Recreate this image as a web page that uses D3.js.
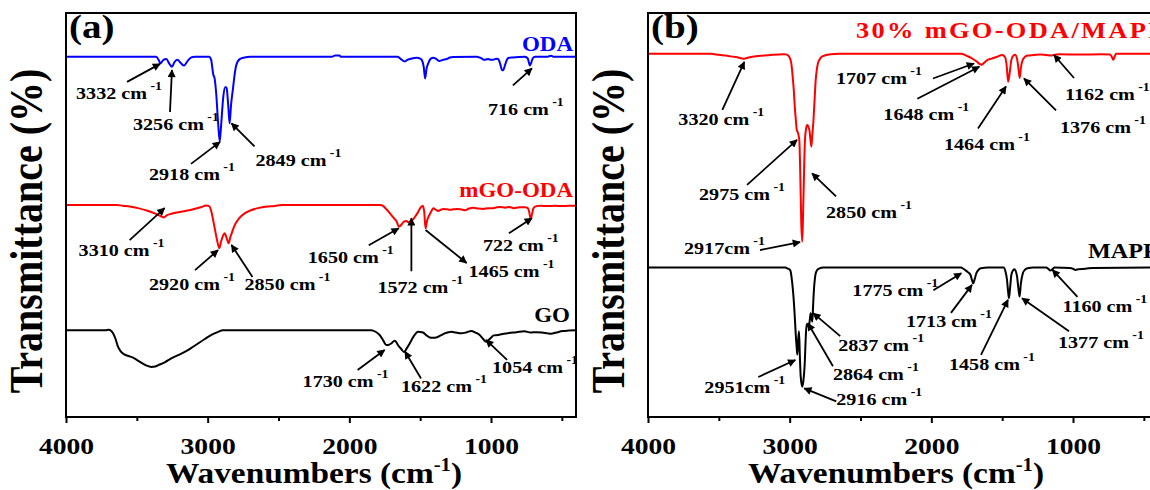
<!DOCTYPE html>
<html>
<head>
<meta charset="utf-8">
<script src="https://cdn.jsdelivr.net/npm/d3@7"></script>
<style>body{margin:0;background:#fff;}</style>
</head>
<body>
<script>
// spectra: [wavenumber, change in transmittance from the curve's own baseline]
var odaPts = [[4000,0],[3400,0],[3363,0],[3345,-0.9],[3332,-1.65],[3315,-0.9],[3292,-0.6],[3270,-1.8],[3252,-2.5],[3235,-1.4],[3214,-0.8],[3190,-1.6],[3167,-2.2],[3140,-1.0],[3115,-0.2],[3090,0],[2990,0],[2975,-0.8],[2970,-2],[2960,-4.5],[2952,-5.2],[2940,-9],[2927,-16],[2915,-21],[2905,-17],[2890,-10],[2875,-7.5],[2866,-7.8],[2855,-12],[2845,-16.5],[2835,-12],[2821,-7.8],[2810,-4.5],[2798,-2.1],[2774,-0.6],[2740,-0.2],[2700,0],[2120,0],[2100,0.3],[2070,0.3],[2060,0],[1660,0],[1640,-0.5],[1607,-1.2],[1590,-0.8],[1572,-0.6],[1524,-0.25],[1500,-0.5],[1489,-0.8],[1475,-2.5],[1465,-5.4],[1455,-3],[1443,-1.65],[1425,-0.5],[1407,-0.25],[1385,-0.6],[1365,-1.1],[1340,-0.8],[1313,-0.6],[1290,-0.2],[1266,-0.1],[1101,0],[1078,-0.25],[1060,-0.6],[1049,-0.8],[1021,-0.6],[1000,-0.8],[984,-0.8],[965,-0.5],[950,-0.6],[935,-1.8],[924,-3.2],[915,-3.4],[900,-2],[885,-0.6],[873,-0.3],[850,-0.2],[760,0],[740,-0.5],[725,-2.2],[716,-1.5],[705,-0.4],[690,0],[600,0],[577,0.2],[560,0],[400,0]];
var mgoOdaPts = [[4000,0],[3640,0],[3600,-0.2],[3550,-0.4],[3492,-0.8],[3430,-1.4],[3374,-2.1],[3330,-2.8],[3308,-3.1],[3290,-2.6],[3256,-2.2],[3190,-1.7],[3115,-1.2],[3050,-0.6],[3010,-0.15],[2990,-0.3],[2975,-1.5],[2960,-4],[2950,-5.8],[2935,-8.5],[2918,-10.7],[2905,-9],[2890,-7.5],[2880,-7],[2868,-8],[2852,-9.5],[2840,-8],[2825,-6.5],[2809,-5],[2780,-3.4],[2739,-2.1],[2700,-1.4],[2645,-0.8],[2580,-0.4],[2527,-0.25],[2480,0],[1780,0],[1760,-0.3],[1735,-1.2],[1713,-2.1],[1690,-3.1],[1666,-4.1],[1650,-5.4],[1630,-4.8],[1614,-4.1],[1595,-4.0],[1584,-4.3],[1565,-4.0],[1548,-3.5],[1534,-2.8],[1520,-2.1],[1500,-0.8],[1482,-0.2],[1472,-1.5],[1462,-5.8],[1452,-4],[1435,-2.5],[1420,-1.5],[1407,-0.8],[1390,-1.2],[1372,-1.5],[1355,-1.2],[1337,-1],[1310,-1.1],[1289,-1.2],[1265,-1.1],[1242,-1],[1215,-1.1],[1184,-1.3],[1155,-0.9],[1125,-0.7],[1090,-0.9],[1054,-1],[1020,-0.8],[984,-0.8],[960,-0.6],[936,-0.5],[900,-0.7],[870,-0.5],[840,-0.8],[800,-0.6],[760,-0.6],[740,-0.8],[730,-1.8],[720,-3.5],[712,-2.5],[700,-0.8],[680,-0.3],[650,-0.2],[600,-0.3],[550,-0.2],[500,-0.3],[450,-0.2],[400,-0.2]];
var goPts = [[4000,0],[3720,0],[3700,0.1],[3680,-0.2],[3668,-0.8],[3650,-2.2],[3633,-4.1],[3615,-5.2],[3598,-5.8],[3560,-6.4],[3527,-6.8],[3490,-7.6],[3457,-8.3],[3430,-8.8],[3398,-9.1],[3370,-9.0],[3351,-8.7],[3300,-7.9],[3257,-7],[3210,-6.2],[3162,-5.4],[3115,-4.4],[3068,-3.3],[3020,-2.2],[2974,-1.2],[2930,-0.5],[2892,0],[1845,0],[1815,-0.4],[1786,-1.2],[1760,-2.6],[1739,-3.7],[1720,-3.6],[1704,-3.3],[1680,-2.6],[1668,-3],[1657,-3.7],[1635,-4.6],[1614,-5.4],[1595,-4.5],[1574,-3.3],[1545,-1.5],[1515,-0.4],[1480,-0.6],[1455,-1.3],[1433,-1.8],[1410,-1.9],[1386,-1.8],[1355,-1.3],[1327,-0.8],[1300,-0.5],[1280,-0.4],[1250,-0.6],[1209,-0.8],[1170,-0.5],[1139,-0.2],[1110,-0.6],[1080,-1.2],[1055,-2.2],[1035,-2.9],[1015,-2.4],[998,-1.8],[981,-1.3],[951,-1.2],[910,-0.9],[873,-0.7],[820,-0.5],[765,-0.25],[720,-0.6],[682,-0.5],[640,-0.6],[600,-0.8],[577,-0.9],[540,-0.6],[494,-0.2],[450,-0.1],[400,0]];
var compositePts = [[4000,0],[3600,0],[3557,0],[3500,-0.25],[3440,-0.5],[3380,-0.8],[3322,-1.2],[3290,-0.9],[3252,-0.65],[3150,-0.35],[3040,-0.1],[3020,-0.2],[3005,-0.65],[2990,-2],[2981,-4.8],[2970,-9.5],[2964,-13],[2955,-17],[2950,-18.8],[2942,-19.5],[2932,-21.3],[2925,-30],[2918,-42],[2911,-46.5],[2903,-36],[2892,-21.3],[2884,-18.5],[2876,-17.6],[2868,-18],[2860,-19],[2847,-23],[2840,-20],[2833,-17],[2825,-12],[2816,-6.4],[2808,-3.8],[2800,-2.3],[2785,-1.2],[2770,-0.65],[2710,-0.1],[2650,0],[1790,0],[1774,-0.1],[1750,-0.5],[1715,-1.1],[1680,-1.9],[1660,-2.5],[1645,-2.7],[1630,-2.3],[1609,-1.65],[1575,-1.2],[1539,-0.8],[1500,-0.3],[1480,-0.8],[1468,-3],[1458,-6.9],[1448,-5],[1435,-1.5],[1420,-0.4],[1409,-0.25],[1395,-1.2],[1384,-4],[1376,-6],[1368,-3.5],[1355,-1.5],[1340,-0.8],[1327,-0.5],[1280,-0.3],[1233,-0.2],[1190,-0.3],[1150,-0.4],[1120,-0.2],[1094,-0.1],[950,-0.2],[800,-0.1],[739,-0.2],[725,-0.8],[715,-1.5],[705,-0.6],[696,0],[400,0]];
var mappPts = [[4000,0],[3030,0],[3017,-0.2],[3000,-0.5],[2993,-1],[2983,-3.5],[2974,-6.8],[2965,-11.5],[2957,-16.6],[2950,-20],[2946,-21.5],[2940,-18],[2934,-15.8],[2928,-22],[2922,-27],[2911,-29.5],[2903,-28],[2894,-24],[2886,-17],[2880,-14],[2872,-14.2],[2866,-14.8],[2858,-13],[2852,-11.3],[2846,-12.5],[2840,-13.4],[2834,-9],[2828,-5.1],[2822,-2.8],[2816,-1.4],[2805,-0.6],[2793,-0.3],[2760,0],[1790,0],[1775,-0.3],[1762,-0.6],[1740,-1.2],[1724,-1.8],[1714,-3],[1704,-3.9],[1695,-3],[1682,-1.4],[1665,-0.5],[1649,-0.2],[1600,0],[1490,0],[1478,-0.8],[1466,-3],[1458,-6],[1452,-7.6],[1444,-5],[1435,-1.8],[1425,-0.8],[1414,-0.4],[1405,-0.8],[1395,-2.2],[1386,-5],[1377,-7.2],[1368,-4],[1354,-1.4],[1340,-0.6],[1321,-0.2],[1280,0],[1190,0],[1175,-0.3],[1160,-0.75],[1145,-0.4],[1130,0],[1020,-0.1],[1000,-0.3],[981,-0.6],[962,-0.4],[911,-0.3],[860,-0.1],[400,0]];

// stacking offsets of each curve (transmittance units)
var namesA = ["ODA", "mGO-ODA", "GO"];
var offsetsA = [89.2, 52.5, 21.5];
var namesB = ["30% mGO-ODA/MAPP", "MAPP"];
var offsetsB = [89.9, 37.0];

var xTicks = [4000, 3000, 2000, 1000];
var xMinorTicks = [3500, 2500, 1500, 500];

// peak labels: [label, tip wavenumber, tip transmittance, tail dx, tail dy, text dx, text dy, flags]
// flags: r = arrow head at the tail end, n = no space before cm
var peaksA = [
  ["3332", 3336, 87.4, -33, 18, -84, 35, ""],
  ["3256", 3252, 85.9, -2, 42, -39, 60, ""],
  ["2918", 2913, 68.1, -29, 22, -71, 38, ""],
  ["2849", 2832, 72.7, 23, 23, 24, 43, ""],
  ["716", 711, 86.3, -19, 17, -44, 47, ""],
  ["3310", 3304, 51.7, -35, 32, -86, 48, ""],
  ["2920", 2927, 41.3, -23, 20, -69, 40, ""],
  ["2850", 2832, 42.6, 21, 32, 13, 45, ""],
  ["1650", 1651, 46.7, -30, 17, -91, 35, ""],
  ["1572", 1562, 49.2, 0, 53, -34, 75, ""],
  ["1465", 1462, 46.3, 41, 33, 43, 47, "r"],
  ["722", 711, 49.2, -23, 15, -49, 33, ""],
  ["1730", 1751, 16.6, -27, 20, -82, 37, ""],
  ["1622", 1607, 16.2, 16, 27, -4, 40, ""],
  ["1054", 1035, 19.1, 21, 20, 6, 33, ""]
];
var peaksB = [
  ["3320", 3320, 87.9, -22, 48, -66, 63, ""],
  ["2975", 2948, 68.6, -50, 45, -98, 60, ""],
  ["2850", 2842, 60.3, 24, 23, 14, 45, ""],
  ["2917", 2927, 43.3, -40, 8, -116, 12, "n"],
  ["1707", 1699, 87.5, -41, 15, -138, 20, ""],
  ["1648", 1661, 86.7, -62, 32, -96, 53, ""],
  ["1464", 1473, 81.8, -28, 42, -62, 63, ""],
  ["1376", 1346, 83.8, 32, 32, 36, 55, ""],
  ["1162", 1134, 89.6, 20, 23, 11, 45, ""],
  ["1775", 1788, 35.6, -28, 17, -109, 23, ""],
  ["1713", 1713, 32.7, -21, 28, -66, 42, ""],
  ["1458", 1459, 29.0, -27, 55, -59, 70, ""],
  ["1377", 1360, 29.4, 47, 33, 36, 50, ""],
  ["1160", 1145, 36.4, 25, 27, 10, 42, ""],
  ["2837", 2834, 25.7, 27, 23, 25, 38, ""],
  ["2864", 2871, 23.2, 25, 43, 25, 57, ""],
  ["2951", 2960, 14.1, -37, 17, -91, 33, "n"],
  ["2916", 2897, 7.1, 32, 13, 32, 17, ""]
];

var SX = 1.15; // text in the source figure is stretched sideways
var svg = d3.select("body").append("svg")
    .attr("width", 1150).attr("height", 490)
    .style("font-family", "'Liberation Serif','Times New Roman',serif")
    .style("font-weight", "bold");

svg.append("defs").append("marker")
    .attr("id", "head").attr("viewBox", "0 0 10 10")
    .attr("refX", 9).attr("refY", 5)
    .attr("markerWidth", 11).attr("markerHeight", 8)
    .attr("markerUnits", "userSpaceOnUse").attr("orient", "auto")
  .append("path").attr("d", "M0,0L10,5L0,10z").attr("fill", "#000");

function stretched(g, x, y, size, str, anchor, fill) {
  return g.append("text")
      .attr("transform", "translate(" + x + "," + y + ") scale(" + SX + ",1)")
      .attr("font-size", size)
      .attr("text-anchor", anchor || "start")
      .attr("fill", fill || "#000")
      .text(str);
}

function drawPanel(left, tag, series, peaks) {
  var x = d3.scaleLinear().domain([4000, 400]).range([left, left + 510]);
  var y = d3.scaleLinear().domain([0, 100]).range([417, 13]);
  var g = svg.append("g");

  var line = function(off) {
    return d3.line().curve(d3.curveMonotoneX)
      .x(function(d){ return x(d[0]); })
      .y(function(d){ return y(off + d[1]); });
  };
  series.forEach(function(s) {
    g.append("path").datum(s.pts)
      .attr("d", line(s.off))
      .attr("fill", "none").attr("stroke", s.color)
      .attr("stroke-width", 2).attr("stroke-linejoin", "round");
    stretched(g, s.lx, y(s.off) - s.ly, s.size, s.name, s.anchor, s.color)
      .attr("letter-spacing", s.ls || 0);
  });

  // frame
  g.append("rect").attr("x", x(4000)).attr("y", y(100))
    .attr("width", x(400) - x(4000)).attr("height", y(0) - y(100))
    .attr("fill", "none").attr("stroke", "#000").attr("stroke-width", 2);

  var ax = g.append("g").attr("transform", "translate(0," + y(0) + ")")
    .call(d3.axisBottom(x).tickValues(xTicks).tickSize(6).tickPadding(14).tickFormat(d3.format("d")))
    .attr("font-family", null).attr("font-size", null);
  ax.select(".domain").remove();
  ax.selectAll(".tick line").attr("stroke-width", 2);
  ax.selectAll(".tick text").attr("font-size", 24)
    .attr("fill", "#000").attr("transform", "scale(" + SX + ",1)");
  var mx = g.append("g").attr("transform", "translate(0," + y(0) + ")")
    .call(d3.axisBottom(x).tickValues(xMinorTicks).tickSize(4).tickFormat(""));
  mx.select(".domain").remove();
  mx.selectAll(".tick line").attr("stroke-width", 2);

  stretched(g, left + 3, 38, 34, tag);

  var xt = g.append("text")
    .attr("transform", "translate(" + (left + 248) + ",483) scale(" + SX + ",1)")
    .attr("font-size", 29).attr("text-anchor", "middle");
  xt.append("tspan").text("Wavenumbers (cm");
  xt.append("tspan").attr("font-size", 18).attr("dy", -12).text("-1");
  xt.append("tspan").attr("dy", 12).text(")");

  g.append("text")
    .attr("transform", "translate(" + (left - 24) + ",231) scale(" + SX + ",1) rotate(-90)")
    .attr("font-size", 40).attr("text-anchor", "middle")
    .text("Transmittance (%)");

  peaks.forEach(function(p) {
    var tx = x(p[1]), ty = y(p[2]);
    var ex = tx + p[3], ey = ty + p[4];
    var rev = p[7].indexOf("r") >= 0;
    g.append("line")
      .attr("x1", rev ? tx : ex).attr("y1", rev ? ty : ey)
      .attr("x2", rev ? ex : tx).attr("y2", rev ? ey : ty)
      .attr("stroke", "#000").attr("stroke-width", 1.8)
      .attr("marker-end", "url(#head)");
    var t = g.append("text")
      .attr("transform", "translate(" + (tx + p[5]) + "," + (ty + p[6]) + ") scale(" + SX + ",1)")
      .attr("font-size", 17.5);
    t.append("tspan").text(p[0] + (p[7].indexOf("n") >= 0 ? "cm" : " cm"));
    t.append("tspan").attr("dx", 3).attr("dy", -9).attr("font-size", 12).text("-1");
  });
}

drawPanel(66, "(a)", [
  {name: namesA[0], pts: odaPts, off: offsetsA[0], color: "#0000ff", lx: 573, ly: 6, anchor: "end", size: 20},
  {name: namesA[1], pts: mgoOdaPts, off: offsetsA[1], color: "#ff0000", lx: 573, ly: 8, anchor: "end", size: 20},
  {name: namesA[2], pts: goPts, off: offsetsA[2], color: "#000000", lx: 570, ly: 8, anchor: "end", size: 20}
], peaksA);

drawPanel(648, "(b)", [
  {name: namesB[0], pts: compositePts, off: offsetsB[0], color: "#ff0000", lx: 856, ly: 16, anchor: "start", size: 23, ls: 2},
  {name: namesB[1], pts: mappPts, off: offsetsB[1], color: "#000000", lx: 1088, ly: 10, anchor: "start", size: 21}
], peaksB);
</script>
</body>
</html>
